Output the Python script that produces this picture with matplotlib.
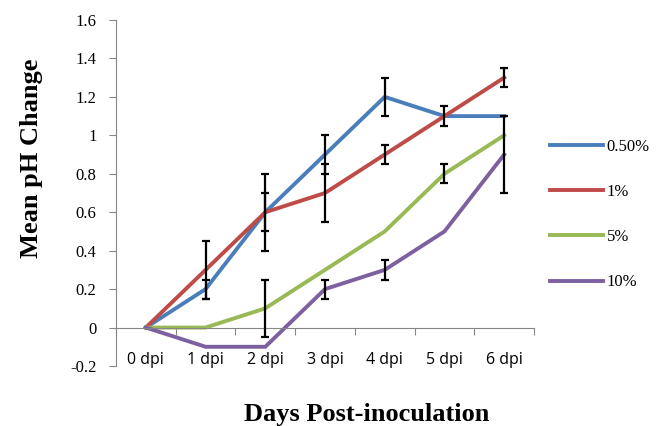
import numpy as np
import matplotlib.pyplot as plt

days = ["0 dpi", "1 dpi", "2 dpi", "3 dpi", "4 dpi", "5 dpi", "6 dpi"]
labels = ["0.50%", "1%", "5%", "10%"]
colors = ["#4A7EBB", "#BE4B48", "#98B954", "#7D60A0"]

ph_050 = [0, 0.2, 0.6, 0.9, 1.2, 1.1, 1.1]
ph_1 = [0, 0.3, 0.6, 0.7, 0.9, 1.1, 1.3]
ph_5 = [0, 0, 0.1, 0.3, 0.5, 0.8, 1.0]
ph_10 = [0, -0.1, -0.1, 0.2, 0.3, 0.5, 0.9]

# error bar half-widths, 0 means no bar drawn
err_050 = [0, 0.05, 0.1, 0.1, 0.1, 0.05, 0]
err_1 = [0, 0.15, 0.2, 0.15, 0.05, 0, 0.05]
err_5 = [0, 0, 0.15, 0, 0, 0.05, 0]
err_10 = [0, 0, 0, 0.05, 0.05, 0, 0.2]

series = [ph_050, ph_1, ph_5, ph_10]
errors = [err_050, err_1, err_5, err_10]

fig = plt.figure(figsize=(6.6, 4.26), dpi=100)
ax = fig.add_axes([116 / 660, 60 / 426, 418 / 660, 346 / 426])

x = np.arange(len(days))
for vals, errs, c, lab in zip(series, errors, colors, labels):
    ax.plot(x, vals, color=c, lw=2.8, label=lab, zorder=2, solid_joinstyle="miter")
    vals = np.array(vals)
    errs = np.array(errs)
    m = errs > 0
    ax.errorbar(x[m], vals[m], yerr=errs[m], fmt="none", ecolor="black",
                elinewidth=1.6, capsize=3.2, capthick=1.6, zorder=3)

ax.set_xlim(-0.5, 6.5)
ax.set_ylim(-0.2, 1.6)
ax.set_yticks(np.arange(-0.2, 1.61, 0.2))
ax.set_yticklabels(["-0.2", "0", "0.2", "0.4", "0.6", "0.8", "1", "1.2", "1.4", "1.6"],
                   fontfamily="Liberation Serif", fontsize=12)

axis_gray = "#868686"
for s in ["top", "right"]:
    ax.spines[s].set_visible(False)
ax.spines["left"].set_color(axis_gray)
ax.spines["bottom"].set_color(axis_gray)
ax.spines["bottom"].set_position(("data", 0))
ax.tick_params(axis="y", direction="out", length=5, color=axis_gray, pad=9)
ax.set_xticks(np.arange(-0.5, 6.6, 1))
ax.tick_params(axis="x", direction="out", length=5, color=axis_gray, labelbottom=False)

for i, d in enumerate(days):
    ax.text(i, -0.17, d, ha="center", va="center", fontsize=11.5,
            fontfamily="Open Sans", color="black")

fig.text(32 / 660, 1 - 158 / 426, "Mean pH Change", rotation=90, ha="center",
         va="center", fontfamily="Liberation Serif", fontweight="bold", fontsize=19)
fig.text(367 / 660, 1 - 415 / 426, "Days Post-inoculation", ha="center", va="center",
         fontfamily="Liberation Serif", fontweight="bold", fontsize=19)

fig.legend(loc="upper left", bbox_to_anchor=(535 / 660, 1 - 124 / 426), frameon=False,
           prop={"family": "Liberation Serif", "size": 12}, handlelength=3.2,
           handletextpad=0.2, labelspacing=1.75)

fig.savefig("out.png", dpi=100)
